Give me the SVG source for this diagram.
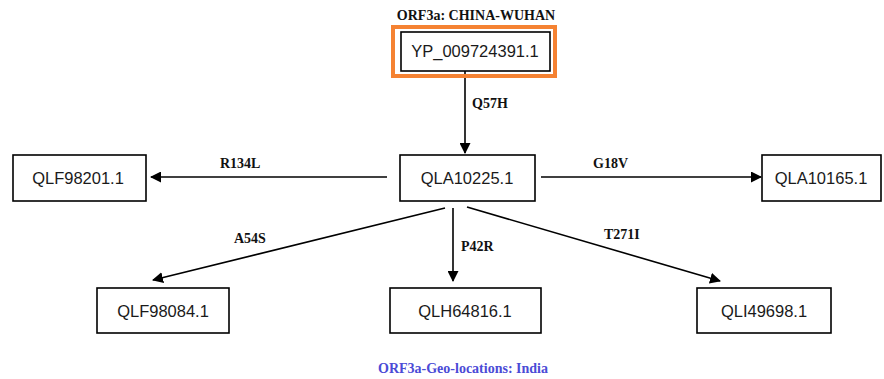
<svg xmlns="http://www.w3.org/2000/svg" width="884" height="379" viewBox="0 0 884 379">
  <defs>
    <marker id="head" markerWidth="11" markerHeight="11" refX="10" refY="5.5" orient="auto" markerUnits="userSpaceOnUse">
      <path d="M0,0 L11,5.5 L0,11 Z" fill="#000"/>
    </marker>
    <style>
      .box { fill: #fff; stroke: #000; stroke-width: 1.6; }
      .name { font-family: "Liberation Sans", Arial, sans-serif; font-size: 16.5px; fill: #1a1a1a; text-anchor: middle; }
      .edge { stroke: #000; stroke-width: 1.6; fill: none; marker-end: url(#head); }
      .lbl { font-family: "Liberation Serif", "Times New Roman", serif; font-weight: bold; font-size: 14px; fill: #111; }
      .title { font-family: "Liberation Serif", "Times New Roman", serif; font-weight: bold; font-size: 14px; fill: #111; text-anchor: middle; }
    </style>
  </defs>
  <rect width="884" height="379" fill="#fff"/>

  <text class="title" x="476" y="20">ORF3a: CHINA-WUHAN</text>

  <!-- connectors -->
  <g id="connectors">
    <line class="edge" x1="465" y1="71" x2="465" y2="153"/>
    <line class="edge" x1="387" y1="177" x2="151" y2="177"/>
    <line class="edge" x1="541" y1="177" x2="761" y2="177"/>
    <line class="edge" x1="445" y1="208" x2="153" y2="280"/>
    <line class="edge" x1="453" y1="208" x2="453" y2="281"/>
    <line class="edge" x1="467" y1="207" x2="720" y2="281"/>
    <text class="lbl" x="472" y="108">Q57H</text>
    <text class="lbl" x="220" y="168">R134L</text>
    <text class="lbl" x="593" y="168">G18V</text>
    <text class="lbl" x="234" y="243">A54S</text>
    <text class="lbl" x="461" y="251">P42R</text>
    <text class="lbl" x="604" y="239">T271I</text>
  </g>

  <g id="YP_009724391">
    <rect x="393" y="27" width="162" height="49" fill="none" stroke="#F58232" stroke-width="4"/>
    <rect class="box" x="401" y="32" width="149" height="39" stroke-width="1.2"/>
    <text class="name" x="475" y="57">YP_009724391.1</text>
  </g>
  <g id="QLA10225">
    <rect class="box" x="400" y="155" width="135" height="46"/>
    <text class="name" x="467" y="184">QLA10225.1</text>
  </g>
  <g id="QLF98201">
    <rect class="box" x="13" y="155" width="133" height="46"/>
    <text class="name" x="78" y="184">QLF98201.1</text>
  </g>
  <g id="QLA10165">
    <rect class="box" x="762" y="155" width="119" height="46"/>
    <text class="name" x="821" y="184">QLA10165.1</text>
  </g>
  <g id="QLF98084">
    <rect class="box" x="97" y="288" width="132" height="45"/>
    <text class="name" x="163" y="317">QLF98084.1</text>
  </g>
  <g id="QLH64816">
    <rect class="box" x="390" y="288" width="151" height="45"/>
    <text class="name" x="465" y="317">QLH64816.1</text>
  </g>
  <g id="QLI49698">
    <rect class="box" x="697" y="288" width="134" height="45"/>
    <text class="name" x="764" y="317">QLI49698.1</text>
  </g>

  <text x="463" y="373" font-family="Liberation Serif, 'Times New Roman', serif" font-weight="bold" font-size="14" fill="#4B4BD6" text-anchor="middle">ORF3a-Geo-locations: India</text>
</svg>
